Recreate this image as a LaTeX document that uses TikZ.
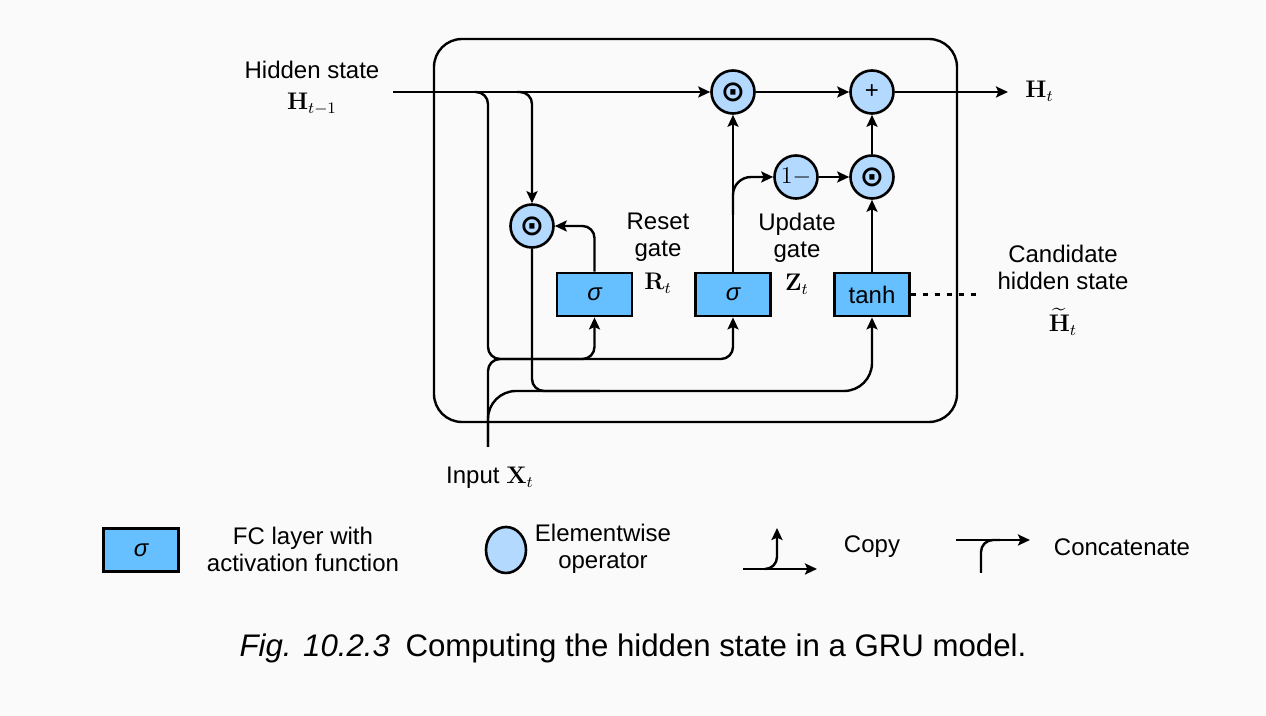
\documentclass[tikz,border=0pt]{standalone}
\usepackage{amsmath}
\usepackage[no-math]{fontspec}
\setmainfont{Liberation Sans}
\newfontfamily\symfont{DejaVu Sans}
\usetikzlibrary{arrows.meta,shapes.geometric}
\definecolor{bgc}{RGB}{250,250,250}
\definecolor{boxc}{RGB}{102,191,255}
\definecolor{circc}{RGB}{179,217,255}
\newcommand{\hadam}{{\symfont\bfseries\fontsize{14.5}{14.5}\selectfont ⊙}}
\begin{document}
\begin{tikzpicture}[x=0.5pt,y=-0.5pt,
  font=\fontsize{12}{13.5}\selectfont,
  line/.style={line width=1.2pt},
  arr/.style={line, -{Stealth[length=6pt,width=5.5pt,inset=1.2pt]}},
  gatebox/.style={draw, line width=1.4pt, fill=boxc, minimum width=37.5pt, minimum height=21.5pt, inner sep=0pt},
  op/.style={draw, circle, line width=1.3pt, fill=circc, minimum size=21.5pt, inner sep=0pt},
  lbl/.style={align=center, inner sep=0pt}]
\fill[bgc] (0,0) rectangle (1266,716);
\useasboundingbox (0,0) rectangle (1266,716);

% outer cell
\draw[line, rounded corners=14pt] (434,39) rectangle (957,422);

% operators
\node[op] (m1) at (733,92) {\hadam};
\node[op] (pl) at (872,92) {+};
\node[op] (om) at (796,177) {$1-$};
\node[op] (m2) at (872,177) {\hadam};
\node[op] (mr) at (532,226) {\hadam};

% gates
\node[gatebox] (rs) at (594.5,294.5) {\itshape σ};
\node[gatebox] (us) at (733,294.5) {\itshape σ};
\node[gatebox] (th) at (872,294.5) {tanh};

% labels
\node[lbl] (hs) at (312,88) {Hidden state\\[2pt]$\mathbf{H}_{t-1}$};
\node[lbl] (rg) at (658,253) {Reset\\gate\\[3pt]$\mathbf{R}_t$};
\node[lbl] (ug) at (797,254) {Update\\gate\\[3pt]$\mathbf{Z}_t$};
\node[lbl] (ch) at (1063,267) {Candidate\\hidden state};
\node[lbl, anchor=base] (cht) at (1063,332) {$\widetilde{\mathbf{H}}_t$};
\node[anchor=base west, inner xsep=8.5pt, inner ysep=0pt] (ht) at (1008,98) {$\mathbf{H}_t$};
\node (inp) at (490,478) {Input $\mathbf{X}_t$};

% junction coordinates
\coordinate (hin) at (393,92);
\coordinate (b1) at (475,92);
\coordinate (b2) at (517,92);
\coordinate (xin) at (488,447);
\coordinate (j1) at (560,359);
\coordinate (j2) at (600,391);
\coordinate (c1) at (733,215);
\coordinate (dotend) at (980,294.5);

% connectors
\draw[arr] (hin) -- (m1);
\draw[arr, rounded corners=6pt] (b1) -| (488,359) -| (rs.south);
\draw[arr, rounded corners=6pt] (j1) -| (us.south);
\draw[line, rounded corners=6pt] (xin) |- (j1);
\draw[arr, rounded corners=14pt] (xin) |- (j2) -| (th.south);
\draw[line, rounded corners=6pt] (mr.south) |- (j2);
\draw[arr, rounded corners=6pt] (b2) -| (mr.north);
\draw[arr, rounded corners=6pt] (rs.north) |- (mr.east);
\draw[arr] (us.north) -- (m1.south);
\draw[arr, rounded corners=9pt] (c1) |- (om.west);
\draw[arr] (om) -- (m2);
\draw[arr] (th.north) -- (m2.south);
\draw[arr] (m2) -- (pl);
\draw[arr] (m1) -- (pl);
\draw[arr] (pl) -- (pl -| ht.west);
\draw[line, dash pattern=on 2.5pt off 3.5pt] (th.east) -- (dotend);

% legend
\node[gatebox] (lgb) at (141,550) {\itshape σ};
\node[lbl] (lgt) at (303,549) {FC layer with\\activation function};
\node[draw, ellipse, line width=1.3pt, fill=circc, minimum width=20pt, minimum height=23pt, inner sep=0pt] (lgc) at (506,550) {};
\node[lbl] (lge) at (603,549) {Elementwise\\operator};
\coordinate (cpa) at (743,569);
\coordinate (cpb) at (817,569);
\coordinate (cpc) at (765,569);
\coordinate (cpd) at (777,528);
\draw[arr] (cpa) -- (cpb);
\draw[arr, rounded corners=6pt] (cpc) -| (cpd);
\node (lcp) at (872,547) {Copy};
\coordinate (cca) at (956,540);
\coordinate (ccb) at (1030,540);
\coordinate (ccc) at (981,573);
\coordinate (ccd) at (1000,540);
\draw[arr] (cca) -- (ccb);
\draw[line, rounded corners=6pt] (ccc) |- (ccd);
\node (lcc) at (1122,547) {Concatenate};

% caption
\node (cap) at (633,648) {\fontsize{15.6}{18}\selectfont\textit{Fig. 10.2.3}\hspace{0.5em}Computing the hidden state in a GRU model.};
\end{tikzpicture}
\end{document}
